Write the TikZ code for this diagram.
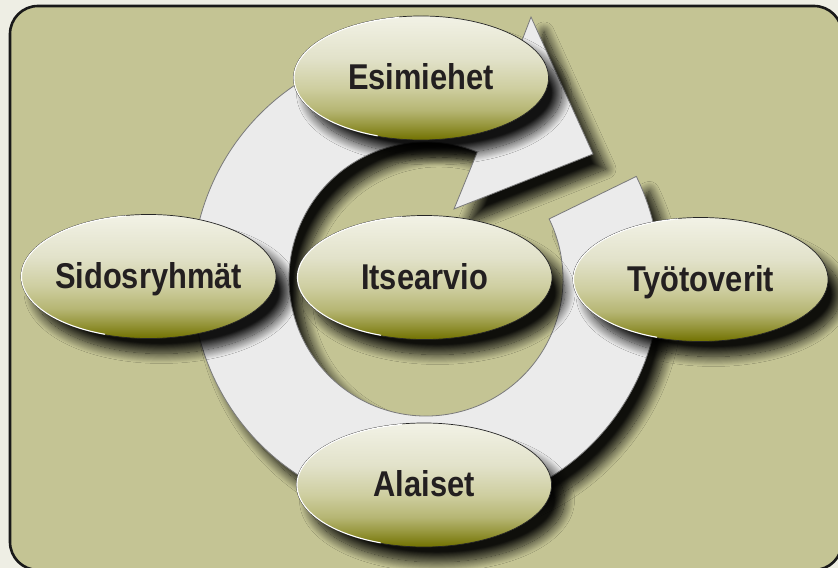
\documentclass[tikz,border=0pt]{standalone}
\usepackage{fontspec}
\setmainfont{Liberation Sans}[FakeStretch=0.86]
\usetikzlibrary{shapes.geometric,shadows.blur,calc}
\definecolor{pagebg}{HTML}{EEEEE4}
\definecolor{panel}{HTML}{C4C494}
\definecolor{ringfill}{HTML}{EBEBEB}
\definecolor{ringline}{HTML}{7A7A7A}
\definecolor{ink}{HTML}{231F20}
\definecolor{sh0}{RGB}{113,113,0}
\definecolor{sh2}{RGB}{150,150,60}
\definecolor{sh4}{RGB}{182,182,116}
\definecolor{sh6}{RGB}{206,206,160}
\definecolor{sh8}{RGB}{226,226,202}
\definecolor{sh10}{RGB}{242,242,230}
\pgfdeclareverticalshading{ovshade}{100bp}{color(0bp)=(sh0); color(25bp)=(sh0); color(31bp)=(sh2); color(37bp)=(sh4); color(46bp)=(sh6); color(58bp)=(sh8); color(75bp)=(sh10); color(100bp)=(sh10)}
\tikzset{
  softshadow/.style={blur shadow={shadow xshift=13bp, shadow yshift=-15bp, shadow blur radius=10bp, shadow opacity=92, shadow blur steps=20}},
  ringshape/.style={fill=ringfill, draw=ringline, line width=0.8bp, softshadow},
  oval/.style={ellipse, minimum width=255bp, minimum height=124bp, inner sep=0pt,
    shading=ovshade, shading angle=0,
    draw=black!85, line width=0.7bp, softshadow,
    text=ink, font=\fontsize{36}{40}\selectfont\bfseries, text height=24bp, text depth=0pt},
  hilite/.style={draw=white, line width=1.1bp}
}
\newcommand\ovlabel[1]{\makebox[0pt]{#1}}
\newcommand\ovhilite[1]{\draw[hilite] ($(#1.center)+({127*cos(100)},{61.5*sin(100)})$) arc[start angle=100, end angle=250, x radius=127, y radius=61.5];}
\begin{document}
\begin{tikzpicture}[x=1bp,y=1bp]
\useasboundingbox (0,0) rectangle (838,568);
\fill[pagebg] (0,0) rectangle (838,568);
\draw[line width=2.6bp, draw=black!90, fill=panel, rounded corners=28bp] (10,562) rectangle (842,-2);
% circular arrow
\coordinate (C) at (426,289);
\coordinate (headout) at (531,551);
\coordinate (tip) at (593,414);
\coordinate (headin) at (454,359);
\path[ringshape] ($(C)+(26:234)$) arc[start angle=26, end angle=-292, radius=234]
  -- (headout) -- (tip) -- (headin) -- ($(C)+(68:137)$)
  arc[start angle=68, end angle=386, radius=137] -- cycle;
% ovals
\node[oval] (esi) at (421,490) {\ovlabel{Esimiehet}};
\ovhilite{esi}
\node[oval] (sid) at (148.5,291.5) {\ovlabel{Sidosryhmät}};
\ovhilite{sid}
\node[oval] (its) at (424.5,290.5) {\ovlabel{Itsearvio}};
\ovhilite{its}
\node[oval] (tyo) at (700.5,288.5) {\ovlabel{Työtoverit}};
\ovhilite{tyo}
\node[oval] (ala) at (424,83) {\ovlabel{Alaiset}};
\ovhilite{ala}
\end{tikzpicture}
\end{document}
